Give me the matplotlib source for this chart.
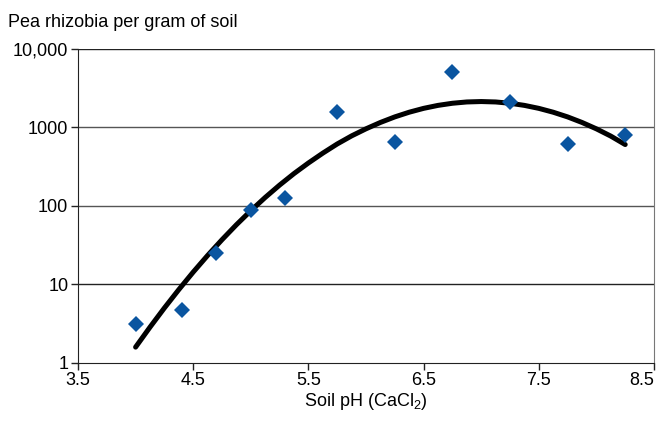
import matplotlib
matplotlib.use("Agg")
import matplotlib.pyplot as plt
from matplotlib import font_manager

names = {f.name for f in font_manager.fontManager.ttflist}
fam = 'Liberation Sans Narrow' if 'Liberation Sans Narrow' in names else 'Liberation Sans'
plt.rcParams['font.family'] = [fam, 'DejaVu Sans']
plt.rcParams['mathtext.fontset'] = 'custom'
plt.rcParams['mathtext.rm'] = fam
plt.rcParams['mathtext.it'] = fam

# Observed data
soil_ph = [4.0, 4.4, 4.7, 5.0, 5.3, 5.75, 6.25, 6.75, 7.25, 7.75, 8.25]
rhizobia = [3.1, 4.7, 25, 89, 127, 1590, 660, 5100, 2090, 615, 790]

# Fitted curve
curve_ph = [4.0, 4.125, 4.25, 4.375, 4.5, 4.625, 4.75, 4.875, 5.0, 5.125, 5.25,
            5.375, 5.5, 5.625, 5.75, 5.875, 6.0, 6.125, 6.25, 6.375, 6.5, 6.625,
            6.75, 6.875, 7.0, 7.125, 7.25, 7.375, 7.5, 7.625, 7.75, 7.875, 8.0,
            8.125, 8.25]
curve_rhizobia = [1.58, 2.84, 4.99, 8.55, 14.3, 23.3, 37.0, 57.4, 86.7, 128, 184,
                  258, 352, 470, 615, 780, 960, 1157, 1362, 1563, 1750, 1910,
                  2033, 2112, 2138, 2112, 2033, 1910, 1750, 1563, 1362, 1157, 959,
                  775, 605]

x_ticks = [3.5, 4.5, 5.5, 6.5, 7.5, 8.5]
y_ticks = [1, 10, 100, 1000, 10000]
y_tick_labels = ['1', '10', '100', '1000', '10,000']

fig = plt.figure(figsize=(6.56, 4.21), dpi=100)
ax = fig.add_axes([78/656, 58.3/421, 576/656, 313.7/421])

ax.set_yscale('log')
ax.set_xlim(3.5, 8.5)
ax.set_ylim(1, 10000)

for yv in y_ticks[1:]:
    ax.axhline(yv, color='#555555' if yv in (100, 1000) else '#222222', lw=1.0, zorder=1)

ax.plot(curve_ph, curve_rhizobia, color='black', lw=3.6, solid_capstyle='round',
        solid_joinstyle='round', zorder=3)
ax.plot(soil_ph, rhizobia, linestyle='none', marker='D', markersize=8,
        color='#0A55A0', markeredgewidth=0, zorder=4)

ax.set_xticks(x_ticks)
ax.set_xticklabels([str(v) for v in x_ticks])
ax.set_yticks(y_ticks)
ax.set_yticklabels(y_tick_labels)
ax.minorticks_off()
ax.tick_params(axis='both', labelsize=13, length=5, width=1, color='#222222', pad=2)
ax.get_xticklabels()[-1].set_horizontalalignment('right')

for s in ['left', 'bottom']:
    ax.spines[s].set_color('#222222')
ax.spines['right'].set_color('#777777')
ax.spines['top'].set_visible(False)

ax.set_xlabel(r'Soil pH (CaCl$_\mathregular{2}$)', fontsize=13, labelpad=1)
fig.text(8/656, 1 - 27/421, 'Pea rhizobia per gram of soil', fontsize=13,
         ha='left', va='baseline')

fig.savefig('out.png', dpi=100)
